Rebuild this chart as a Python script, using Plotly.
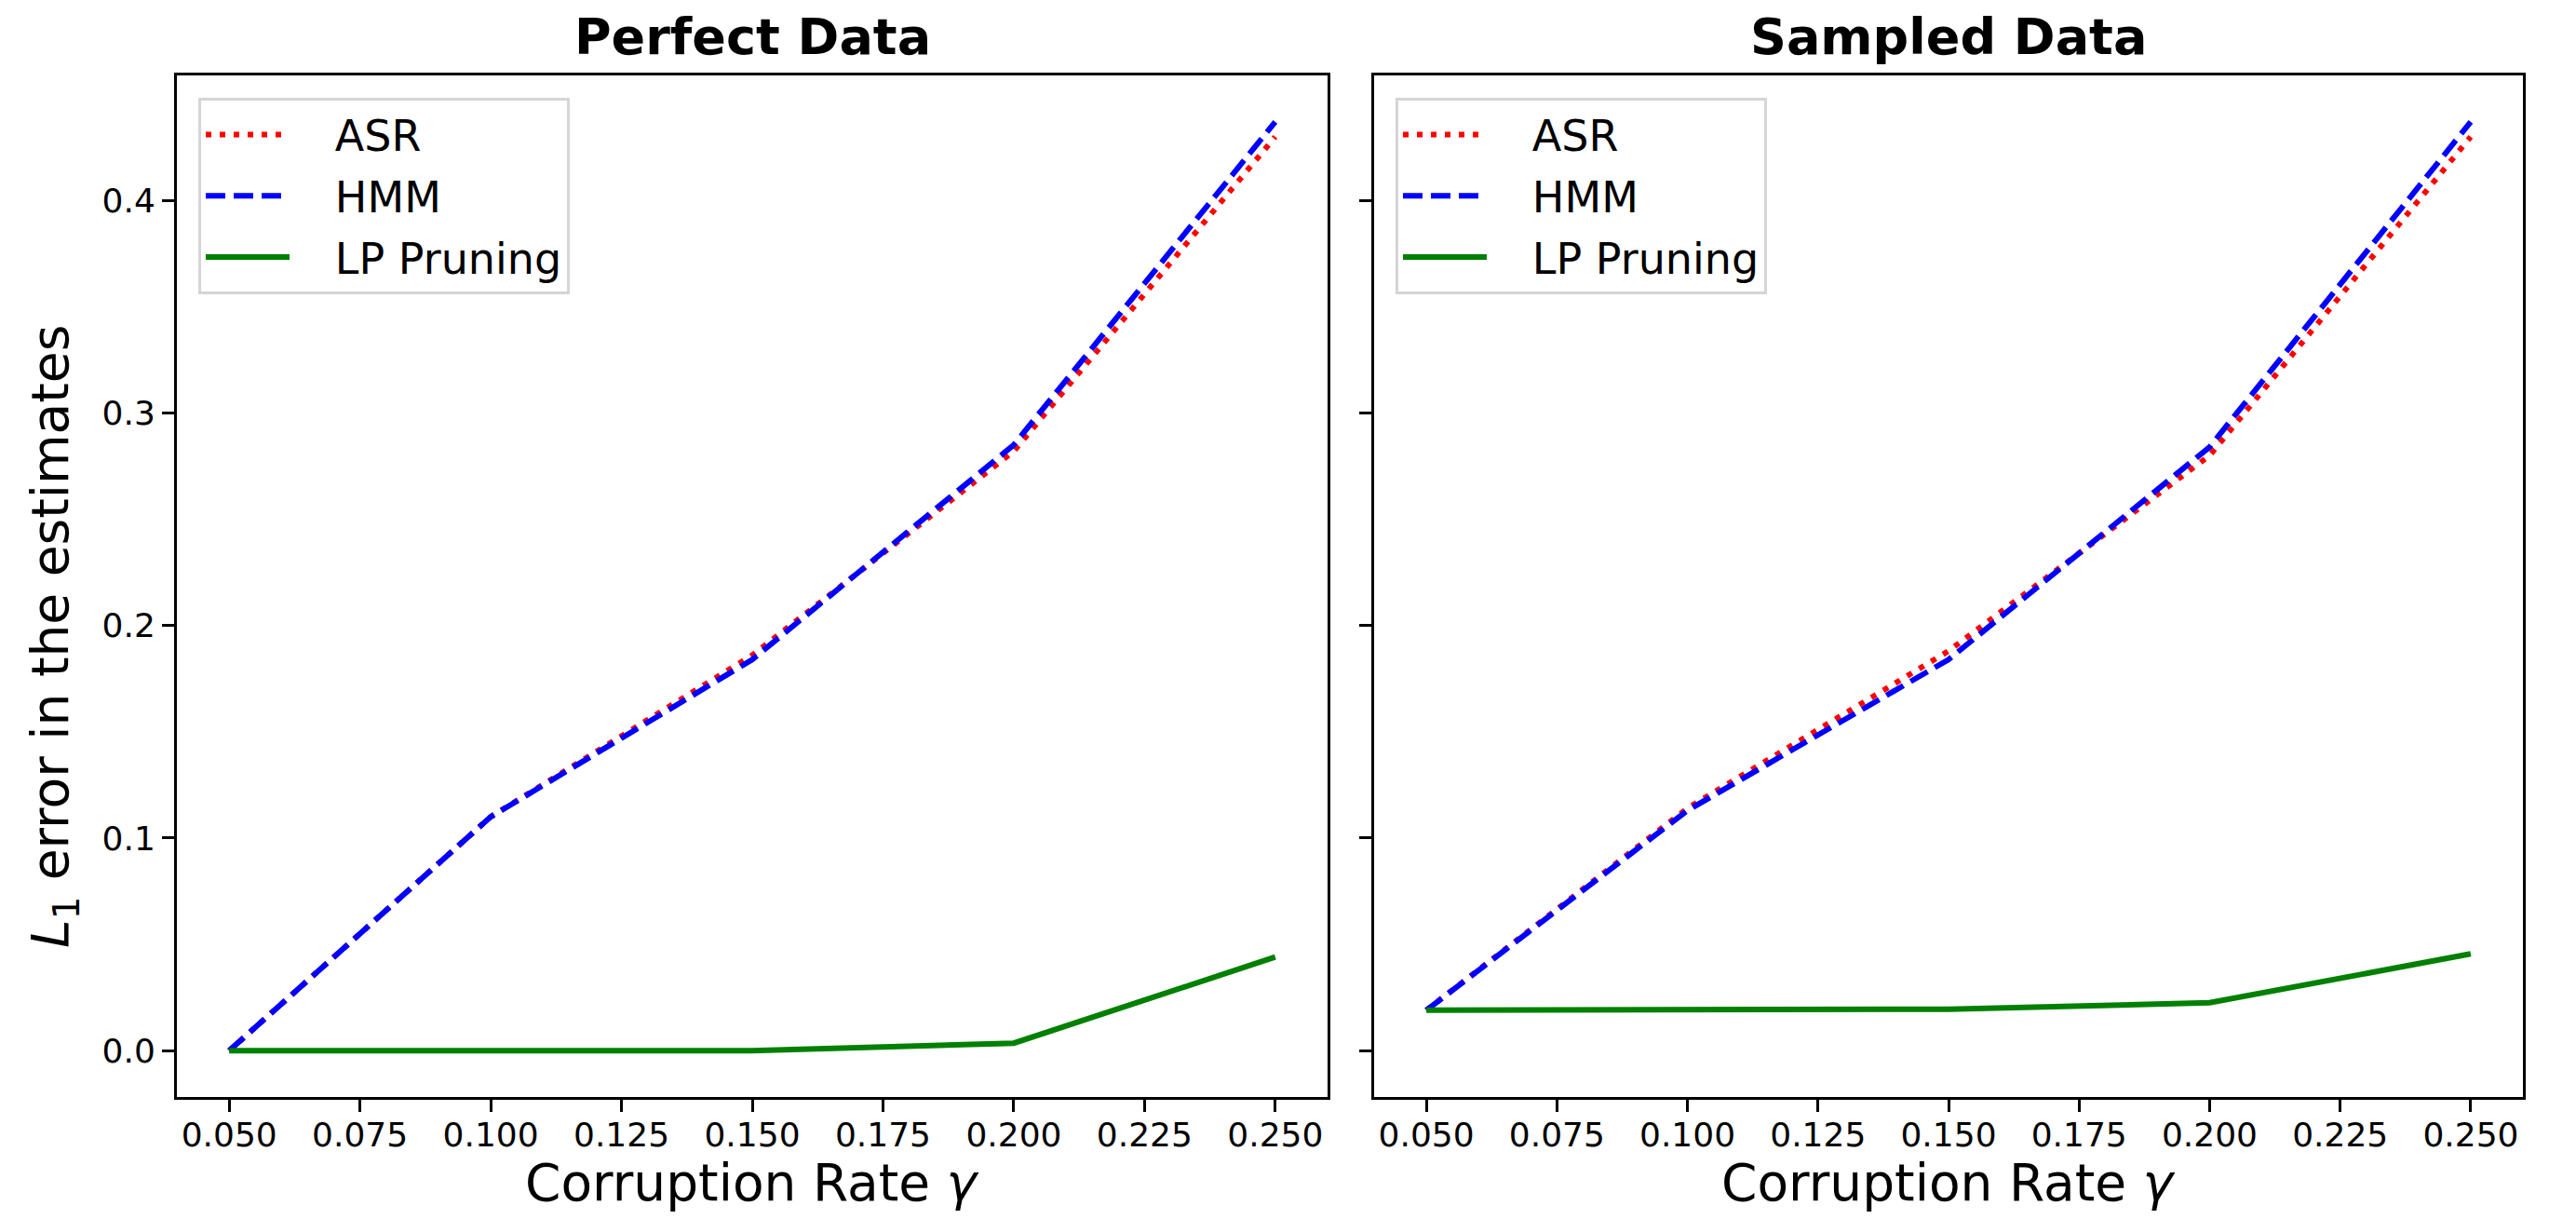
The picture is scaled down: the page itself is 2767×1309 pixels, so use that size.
import plotly.graph_objects as go

# ---- data ----
gamma = [0.05, 0.10, 0.15, 0.20, 0.25]

perfect_asr = [0.000, 0.110, 0.186, 0.282, 0.430]
perfect_hmm = [0.000, 0.110, 0.184, 0.285, 0.437]
perfect_lp = [0.000, 0.000, 0.000, 0.0035, 0.044]

sampled_asr = [0.019, 0.114, 0.188, 0.280, 0.430]
sampled_hmm = [0.019, 0.113, 0.184, 0.284, 0.437]
sampled_lp = [0.019, 0.0195, 0.0195, 0.0225, 0.0455]

panel_titles = ["Perfect Data", "Sampled Data"]
series_names = ["ASR", "HMM", "LP Pruning"]
x_ticks = [0.05, 0.075, 0.10, 0.125, 0.15, 0.175, 0.20, 0.225, 0.25]
y_ticks = [0.0, 0.1, 0.2, 0.3, 0.4]

# ---- layout constants ----
W, H = 2767, 1309
FONT = "DejaVu Sans"
LW = 6
styles = [
    dict(color="#ff0000", dash="6px,9px"),
    dict(color="#0000ff", dash="21px,9px"),
    dict(color="#008000", dash="solid"),
]

def px_x(p):
    return p / W

def px_y(p):
    return 1 - p / H

dom_left = [px_x(190), px_x(1426)]
dom_right = [px_x(1476), px_x(2710)]
dom_y = [px_y(1178), px_y(81)]

fig = go.Figure()

PAD = "\u00a0\u00a0\u00a0"
panels = [
    (perfect_asr, perfect_hmm, perfect_lp, "x", "y", "legend"),
    (sampled_asr, sampled_hmm, sampled_lp, "x2", "y2", "legend2"),
]
for pi, (a, h, l, xa, ya, lg) in enumerate(panels):
    for si, vals in enumerate([a, h, l]):
        fig.add_trace(go.Scatter(
            x=gamma, y=vals, mode="lines", name=PAD + series_names[si],
            line=dict(width=LW, color=styles[si]["color"], dash=styles[si]["dash"]),
            xaxis=xa, yaxis=ya, legend=lg,
            legendgroup=f"{lg}_{si}",
        ))

axis_common = dict(
    showline=True, linecolor="black", linewidth=3, mirror=True,
    ticks="outside", ticklen=13, tickwidth=3, tickcolor="black",
    showgrid=False, zeroline=False,
    tickfont=dict(family=FONT, size=36, color="black"),
)

xr = [0.04, 0.26]
yr = [-0.02185, 0.45885]

legend_common = dict(
    xanchor="left", yanchor="top",
    bgcolor="rgba(255,255,255,0.8)", bordercolor="#d5d5d5", borderwidth=3,
    font=dict(family=FONT, size=46, color="black"),
    itemwidth=90, tracegroupgap=3,
)

fig.update_layout(
    width=W, height=H, autosize=False,
    margin=dict(l=0, r=0, t=0, b=0),
    plot_bgcolor="white", paper_bgcolor="white",
    font=dict(family=FONT, color="black"),
    xaxis=dict(domain=dom_left, range=xr, tickvals=x_ticks, tickformat=".3f",
               anchor="y", ticklabelstandoff=-6, **axis_common),
    yaxis=dict(domain=dom_y, range=yr, tickvals=y_ticks, tickformat=".1f",
               anchor="x", **axis_common),
    xaxis2=dict(domain=dom_right, range=xr, tickvals=x_ticks, tickformat=".3f",
                anchor="y2", ticklabelstandoff=-6, **axis_common),
    yaxis2=dict(domain=dom_y, range=yr, tickvals=y_ticks, tickformat=".1f",
                anchor="x2", showticklabels=False, **axis_common),
    legend=dict(x=px_x(213), y=px_y(105), **legend_common),
    legend2=dict(x=px_x(1499), y=px_y(105), **legend_common),
)

annotations = []
for ti, dom in enumerate([dom_left, dom_right]):
    cx = (dom[0] + dom[1]) / 2
    annotations.append(dict(
        text=f"<b>{panel_titles[ti]}</b>", x=cx, y=px_y(39), xref="paper", yref="paper",
        xanchor="center", yanchor="middle", showarrow=False,
        font=dict(family=FONT, size=54, color="black"),
    ))
    annotations.append(dict(
        text="Corruption Rate <i>γ</i>", x=cx, y=px_y(1270), xref="paper", yref="paper",
        xanchor="center", yanchor="middle", showarrow=False,
        font=dict(family=FONT, size=55, color="black"),
    ))
annotations.append(dict(
    text="<i>L</i><sub>1</sub> error in the estimates", x=px_x(58), y=px_y(684),
    xref="paper", yref="paper", xanchor="center", yanchor="middle", textangle=-90,
    showarrow=False, font=dict(family=FONT, size=55, color="black"),
))
fig.update_layout(annotations=annotations)

fig.write_html(
    "out.html",
    config={"displayModeBar": False},
    post_script="document.body.style.margin='0';document.body.style.padding='0';"
                "window.dispatchEvent(new Event('resize'));",
)
